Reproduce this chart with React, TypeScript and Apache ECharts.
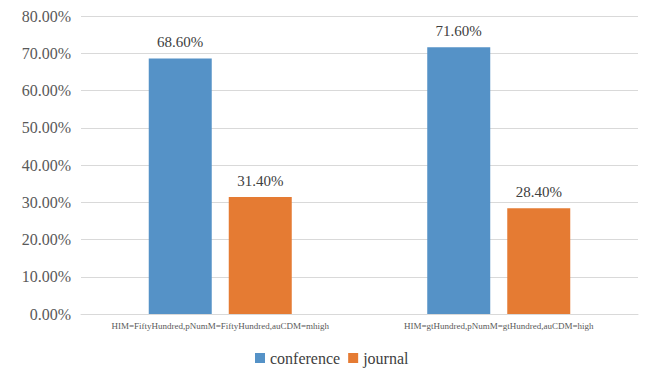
import React, { useEffect, useRef } from "react";
import * as echarts from "echarts";

const categories = [
  "HIM=FiftyHundred,pNumM=FiftyHundred,auCDM=mhigh",
  "HIM=gtHundred,pNumM=gtHundred,auCDM=high",
];
const conference = [68.6, 71.6];
const journal = [31.4, 28.4];
const seriesNames = ["conference", "journal"];
const yTicks = { min: 0, max: 80, interval: 10 };

const FONT = "Liberation Serif";

export default function App() {
  const ref = useRef<HTMLDivElement>(null);
  useEffect(() => {
    const chart = echarts.init(ref.current!, null, { renderer: "svg" });
    const label = {
      show: true,
      position: "top",
      distance: 9,
      fontFamily: FONT,
      fontSize: 15,
      color: "#404040",
      formatter: (p: any) => p.value.toFixed(2) + "%",
    };
    chart.setOption({
      animation: false,
      backgroundColor: "#ffffff",
      textStyle: { fontFamily: FONT },
      grid: { left: 81, right: 12, top: 16, bottom: 56, containLabel: false },
      legend: {
        data: seriesNames,
        bottom: 4,
        left: 255,
        padding: 0,
        itemWidth: 10,
        itemHeight: 10,
        itemGap: 8,
        icon: "rect",
        textStyle: { fontFamily: FONT, fontSize: 16, color: "#404040" },
      },
      xAxis: {
        type: "category",
        data: categories,
        axisLine: { lineStyle: { color: "#d9d9d9", width: 1 } },
        axisTick: { show: false },
        axisLabel: { fontFamily: FONT, fontSize: 9, color: "#595959", margin: 7, interval: 0 },
      },
      yAxis: {
        type: "value",
        min: yTicks.min,
        max: yTicks.max,
        interval: yTicks.interval,
        axisLine: { show: false },
        axisTick: { show: false },
        splitLine: { lineStyle: { color: "#d9d9d9", width: 1 } },
        axisLabel: {
          fontFamily: FONT,
          fontSize: 16,
          color: "#595959",
          margin: 10,
          formatter: (v: number) => v.toFixed(2) + "%",
        },
      },
      series: [
        {
          name: seriesNames[0],
          type: "bar",
          data: conference,
          barWidth: 63,
          barGap: "27%",
          itemStyle: { color: "#5592c7" },
          label,
        },
        {
          name: seriesNames[1],
          type: "bar",
          data: journal,
          barWidth: 63,
          barGap: "27%",
          itemStyle: { color: "#e57b33" },
          label,
        },
      ],
    });
    return () => chart.dispose();
  }, []);
  return (
    <div
      ref={ref}
      style={{ position: "fixed", left: 0, top: 0, width: 650, height: 370, background: "#fff" }}
    />
  );
}
